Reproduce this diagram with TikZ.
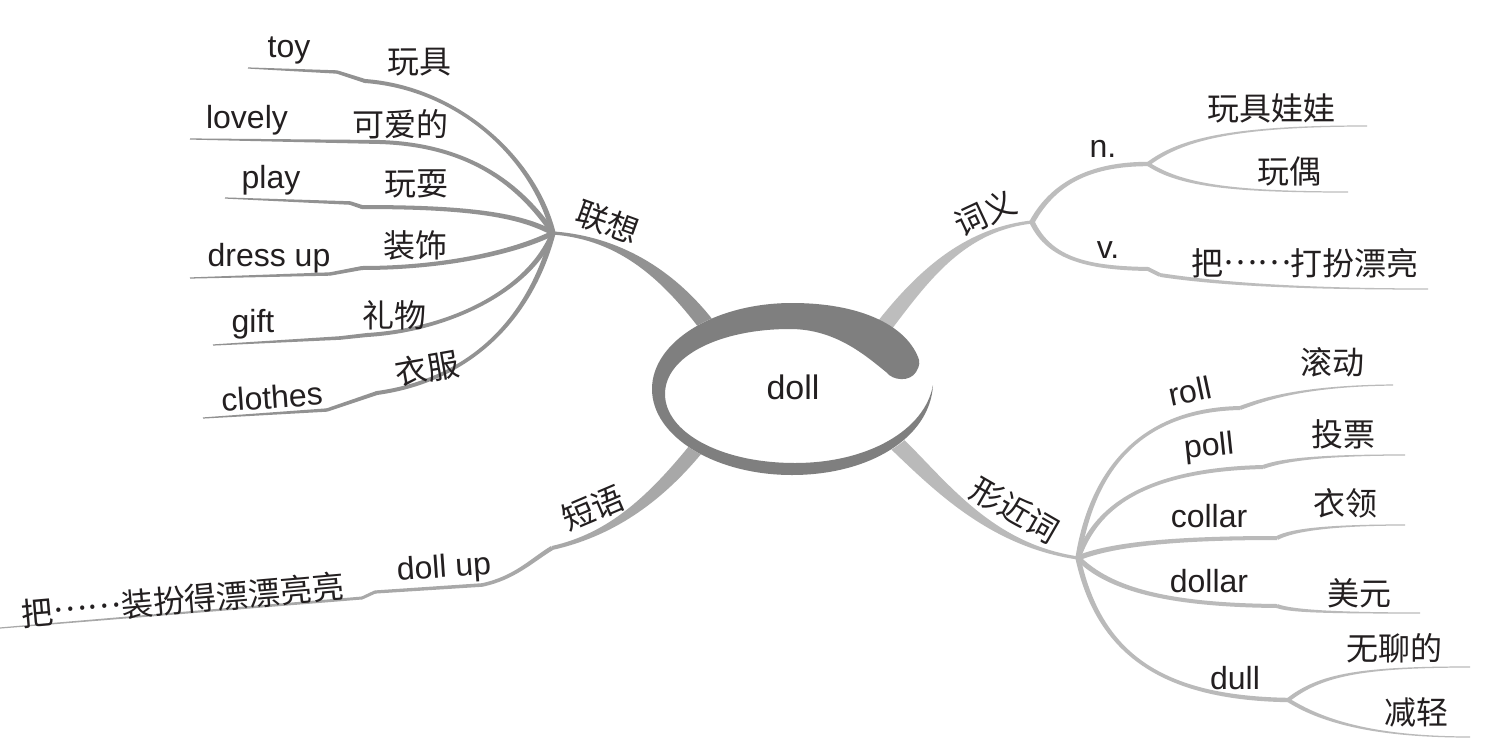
\documentclass[tikz,border=0pt]{standalone}
\usepackage{fontspec}
\setmainfont{Liberation Sans}
\newfontfamily\cjk{Noto Sans CJK SC}
\usetikzlibrary{calc}
\definecolor{txt}{HTML}{231F20}
\definecolor{ringc}{HTML}{7F7F7F}
\definecolor{lxc}{HTML}{929292}
\definecolor{cyc}{HTML}{BDBDBD}
\definecolor{xjc}{HTML}{BABABA}
\definecolor{dyc}{HTML}{A8A8A8}
\newcommand\mydots{\raisebox{0.33em}{……}}
% tapered cubic: A B C D halfwidth1 halfwidth2 colour
\newcommand\taper[7]{%
 \fill[#7] ($(#1)!#5!90:(#2)$) .. controls ($(#2)!#5!-90:(#1)$) and ($(#3)!#6!90:(#4)$) .. ($(#4)!#6!-90:(#3)$)
 -- ($(#4)!#6!90:(#3)$) .. controls ($(#3)!#6!-90:(#4)$) and ($(#2)!#5!90:(#1)$) .. ($(#1)!#5!-90:(#2)$) -- cycle;}
% tapered straight segment: P Q halfwidth1 halfwidth2 colour
\newcommand\tseg[5]{%
 \fill[#5] ($(#1)!#3!90:(#2)$) -- ($(#2)!#4!-90:(#1)$) -- ($(#2)!#4!90:(#1)$) -- ($(#1)!#3!-90:(#2)$) -- cycle;
 \fill[#5] (#1) circle[radius=#3];}
\begin{document}
\begin{tikzpicture}[x=0.5pt,y=-0.5pt,
 en/.style={text=txt,inner sep=0pt,font=\fontsize{16}{18}\selectfont},
 zh/.style={text=txt,inner sep=0pt,font=\cjk\fontsize{16}{18}\selectfont}]
\useasboundingbox (0,0) rectangle (1488,744);
\fill[white] (0,0) rectangle (1488,744);

% hubs and ring anchors
\coordinate (hubL) at (553,233);
\coordinate (hubC) at (1032,222);
\coordinate (hubX) at (1078,558);
\coordinate (hubD) at (552,548);
\coordinate (rL) at (712,332);
\coordinate (rC) at (878,334);
\coordinate (rX) at (893,440);
\coordinate (rD) at (700,444);

% main branches
\taper{rL}{670,275}{620,238}{hubL}{4pt}{0.8pt}{lxc}
\taper{rC}{918,282}{960,230}{hubC}{4pt}{0.8pt}{cyc}
\taper{rX}{940,485}{990,545}{hubX}{4pt}{0.8pt}{xjc}
\taper{rD}{655,500}{610,535}{hubD}{3.6pt}{1pt}{dyc}

% 短语 continuation
\coordinate (d1) at (482,585);
\coordinate (d2) at (375,592);
\coordinate (d3) at (362,598);
\coordinate (d4) at (0,628);
\taper{hubD}{532,560}{515,578}{d1}{1.1pt}{0.9pt}{dyc}
\tseg{d1}{d2}{0.9pt}{0.8pt}{dyc}
\tseg{d2}{d3}{0.8pt}{0.75pt}{dyc}
\tseg{d3}{d4}{0.75pt}{0.3pt}{dyc}

% 联想 leaves
\coordinate (toyS) at (365,81);  \coordinate (toyT) at (337,72);  \coordinate (toyE) at (248,68);
\taper{hubL}{535,160}{460,88}{toyS}{1.3pt}{1pt}{lxc}
\tseg{toyS}{toyT}{1pt}{0.85pt}{lxc}
\tseg{toyT}{toyE}{0.85pt}{0.3pt}{lxc}

\coordinate (lovS) at (380,142); \coordinate (lovE) at (190,139);
\taper{hubL}{520,185}{470,145}{lovS}{1.3pt}{1pt}{lxc}
\tseg{lovS}{lovE}{1pt}{0.3pt}{lxc}

\coordinate (plaS) at (362,207); \coordinate (plaT) at (350,203); \coordinate (plaE) at (225,198);
\taper{hubL}{520,215}{470,207}{plaS}{1.3pt}{1pt}{lxc}
\tseg{plaS}{plaT}{1pt}{0.9pt}{lxc}
\tseg{plaT}{plaE}{0.9pt}{0.3pt}{lxc}

\coordinate (dreS) at (362,268); \coordinate (dreT) at (330,274); \coordinate (dreE) at (190,278);
\taper{hubL}{520,250}{450,268}{dreS}{1.3pt}{1pt}{lxc}
\tseg{dreS}{dreT}{1pt}{0.85pt}{lxc}
\tseg{dreT}{dreE}{0.85pt}{0.3pt}{lxc}

\coordinate (gifS) at (367,335); \coordinate (gifT) at (340,338); \coordinate (gifE) at (213,345);
\taper{hubL}{530,290}{450,330}{gifS}{1.3pt}{1pt}{lxc}
\tseg{gifS}{gifT}{1pt}{0.9pt}{lxc}
\tseg{gifT}{gifE}{0.9pt}{0.3pt}{lxc}

\coordinate (cloS) at (377,393); \coordinate (cloT) at (327,410); \coordinate (cloE) at (203,418);
\taper{hubL}{530,320}{470,380}{cloS}{1.3pt}{1pt}{lxc}
\tseg{cloS}{cloT}{1pt}{0.85pt}{lxc}
\tseg{cloT}{cloE}{0.85pt}{0.3pt}{lxc}

% 词义 leaves
\coordinate (nF) at (1148,164);
\coordinate (nU) at (1367,126);
\coordinate (nD) at (1348,192);
\taper{hubC}{1055,180}{1095,164}{nF}{1.3pt}{1.1pt}{cyc}
\taper{nF}{1180,140}{1230,126}{nU}{1pt}{0.3pt}{cyc}
\taper{nF}{1180,185}{1230,192}{nD}{1pt}{0.3pt}{cyc}
\coordinate (vS) at (1148,269); \coordinate (vT) at (1160,275); \coordinate (vE) at (1428,289);
\taper{hubC}{1050,260}{1090,268}{vS}{1.3pt}{1pt}{cyc}
\tseg{vS}{vT}{1pt}{0.95pt}{cyc}
\taper{vT}{1220,284}{1300,289}{vE}{0.95pt}{0.3pt}{cyc}

% 形近词 leaves
\coordinate (roS) at (1240,408); \coordinate (roE) at (1393,385);
\taper{hubX}{1092,470}{1140,410}{roS}{1.3pt}{1pt}{xjc}
\taper{roS}{1262,400}{1300,386}{roE}{1pt}{0.3pt}{xjc}
\coordinate (poS) at (1263,467); \coordinate (poE) at (1405,455);
\taper{hubX}{1095,510}{1140,470}{poS}{1.3pt}{1pt}{xjc}
\taper{poS}{1282,460}{1320,455}{poE}{1pt}{0.3pt}{xjc}
\coordinate (coS) at (1277,538); \coordinate (coE) at (1405,525);
\taper{hubX}{1110,545}{1170,538}{coS}{1.3pt}{1pt}{xjc}
\taper{coS}{1292,530}{1330,525}{coE}{1pt}{0.3pt}{xjc}
\coordinate (doS) at (1277,606); \coordinate (doE) at (1420,613);
\taper{hubX}{1110,590}{1170,605}{doS}{1.3pt}{1pt}{xjc}
\taper{doS}{1290,611}{1330,613}{doE}{1pt}{0.3pt}{xjc}
\coordinate (duF) at (1288,700); \coordinate (duU) at (1470,667); \coordinate (duD) at (1470,737);
\taper{hubX}{1100,660}{1170,698}{duF}{1.3pt}{1.1pt}{xjc}
\taper{duF}{1320,675}{1360,667}{duU}{1pt}{0.3pt}{xjc}
\taper{duF}{1320,720}{1370,737}{duD}{1pt}{0.3pt}{xjc}

% central ring
\fill[white] (932,389) .. controls (932,341.5) and (869,303) .. (792,303)
  .. controls (715,303) and (652,341.5) .. (652,389)
  .. controls (652,436.5) and (715,475) .. (792,475)
  .. controls (869,475) and (932,436.5) .. (932,389) -- cycle;
\fill[ringc] (918,357) .. controls (905,325) and (860,303) .. (792,303)
  .. controls (715,303) and (652,341.5) .. (652,389)
  .. controls (652,436.5) and (715,475) .. (792,475)
  .. controls (869,475) and (930,438) .. (933,385)
  .. controls (925,430) and (868,463) .. (795,463)
  .. controls (720,463) and (665,432) .. (665,394)
  .. controls (665,356) and (720,329) .. (790,329)
  .. controls (835,329) and (865,355) .. (886,372)
  .. controls (893,381) and (910,382) .. (916,372)
  .. controls (920,366) and (920,361) .. (918,357) -- cycle;
\node[en,font=\fontsize{17}{19}\selectfont] (doll) at (793,387) {doll};

% main labels
\node[zh,rotate=-20] (lx) at (608,222) {联想};
\node[zh,rotate=25] (cy) at (985,213) {词义};
\node[zh,rotate=-30] (xj) at (1015,510) {形近词};
\node[zh,rotate=23] (dy) at (593,508) {短语};

% 联想 labels
\node[en] (toy) at (289,50) {toy};
\node[zh] (toyz) at (419,62) {玩具};
\node[en] (lov) at (247,120) {lovely};
\node[zh] (lovz) at (400,124) {可爱的};
\node[en] (pla) at (271,180) {play};
\node[zh] (plaz) at (416,184) {玩耍};
\node[en] (dre) at (269,258) {dress up};
\node[zh] (drez) at (415,245) {装饰};
\node[en] (gif) at (253,324) {gift};
\node[zh] (gifz) at (394,315) {礼物};
\node[en,rotate=4] (clo) at (272,397) {clothes};
\node[zh,rotate=10] (cloz) at (427,368) {衣服};

% 词义 labels
\node[en] (n) at (1103,149) {n.};
\node[zh] (nu) at (1271,108) {玩具娃娃};
\node[zh] (nd) at (1289,171) {玩偶};
\node[en] (v) at (1108,250) {v.};
\node[zh] (vz) at (1305,263) {把\mydots 打扮漂亮};

% 形近词 labels
\node[en,rotate=12] (roll) at (1190,391) {roll};
\node[zh] (rollz) at (1332,362) {滚动};
\node[en,rotate=6] (poll) at (1209,448) {poll};
\node[zh] (pollz) at (1343,434) {投票};
\node[en] (coll) at (1209,516) {collar};
\node[zh] (collz) at (1345,503) {衣领};
\node[en] (doll2) at (1209,581) {dollar};
\node[zh] (dollz) at (1359,593) {美元};
\node[en] (dull) at (1235,678) {dull};
\node[zh] (dullu) at (1394,648) {无聊的};
\node[zh] (dulld) at (1416,712) {减轻};

% 短语 labels
\node[en,rotate=4] (dup) at (444,569) {doll up};
\node[zh,rotate=5] (dupz) at (183,600) {把\mydots 装扮得漂漂亮亮};
\end{tikzpicture}
\end{document}
